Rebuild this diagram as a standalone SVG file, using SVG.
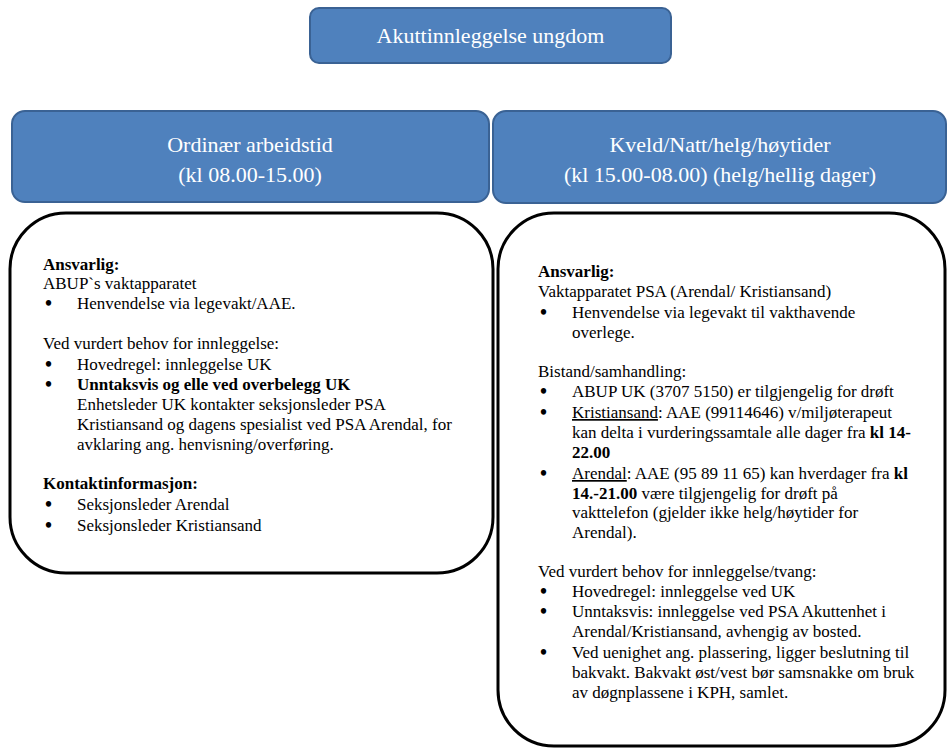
<svg xmlns="http://www.w3.org/2000/svg" width="947" height="749" viewBox="0 0 947 749">
<style>
  .hdr { fill: #4F81BD; stroke: #3A6294; stroke-width: 2; }
  .body { fill: #FFFFFF; stroke: #000000; stroke-width: 3; }
  .ht { font-family: "Liberation Serif", "Times New Roman", serif; font-size: 22px; fill: #FFFFFF; text-anchor: middle; }
  .t { font-family: "Liberation Serif", "Times New Roman", serif; font-size: 17px; fill: #000000; }
  .b { font-weight: bold; }
  .u { text-decoration: underline; }
  .bul { font-family: "Liberation Serif", "Times New Roman", serif; font-size: 20px; font-weight: bold; fill: #000000; }
</style>
<rect width="947" height="749" fill="#FFFFFF"/>

<g id="title">
  <rect class="hdr" x="310" y="8" width="361" height="55" rx="9"/>
  <text class="ht" x="490.5" y="43">Akuttinnleggelse ungdom</text>
</g>

<g id="header-ordinaer">
  <rect class="hdr" x="12" y="111" width="477" height="91" rx="13"/>
  <text class="ht" x="250" y="152">Ordinær arbeidstid</text>
  <text class="ht" x="250" y="182">(kl 08.00-15.00)</text>
</g>

<g id="header-kveld">
  <rect class="hdr" x="493" y="111" width="453" height="92" rx="13"/>
  <text class="ht" x="720" y="152">Kveld/Natt/helg/høytider</text>
  <text class="ht" x="720" y="182">(kl 15.00-08.00) (helg/hellig dager)</text>
</g>

<g id="body-ordinaer">
  <rect class="body" x="10" y="213" width="483" height="360" rx="56"/>
  <text class="t b" x="43" y="270">Ansvarlig:</text>
  <text class="t" x="43" y="289">ABUP`s vaktapparatet</text>
  <text class="bul" x="45" y="310">•</text>
  <text class="t" x="77" y="309">Henvendelse via legevakt/AAE.</text>
  <text class="t" x="43" y="349">Ved vurdert behov for innleggelse:</text>
  <text class="bul" x="45" y="371">•</text>
  <text class="t" x="77" y="370">Hovedregel: innleggelse UK</text>
  <text class="bul" x="45" y="391">•</text>
  <text class="t b" x="77" y="390">Unntaksvis og elle ved overbelegg UK</text>
  <text class="t" x="77" y="410">Enhetsleder UK kontakter seksjonsleder PSA</text>
  <text class="t" x="77" y="430">Kristiansand og dagens spesialist ved PSA Arendal, for</text>
  <text class="t" x="77" y="450">avklaring ang. henvisning/overføring.</text>
  <text class="t b" x="43" y="489">Kontaktinformasjon:</text>
  <text class="bul" x="45" y="511">•</text>
  <text class="t" x="77" y="510">Seksjonsleder Arendal</text>
  <text class="bul" x="45" y="532">•</text>
  <text class="t" x="77" y="531">Seksjonsleder Kristiansand</text>
</g>

<g id="body-kveld">
  <rect class="body" x="498" y="213" width="447" height="533" rx="56"/>
  <text class="t b" x="538" y="277">Ansvarlig:</text>
  <text class="t" x="538" y="297">Vaktapparatet PSA (Arendal/ Kristiansand)</text>
  <text class="bul" x="540" y="319">•</text>
  <text class="t" x="572" y="318">Henvendelse via legevakt til vakthavende</text>
  <text class="t" x="572" y="338">overlege.</text>
  <text class="t" x="538" y="377">Bistand/samhandling:</text>
  <text class="bul" x="540" y="398">•</text>
  <text class="t" x="572" y="397">ABUP UK (3707 5150) er tilgjengelig for drøft</text>
  <text class="bul" x="540" y="419">•</text>
  <text class="t" x="572" y="418"><tspan class="u">Kristiansand</tspan>: AAE (99114646) v/miljøterapeut</text>
  <text class="t" x="572" y="438">kan delta i vurderingssamtale alle dager fra <tspan class="b">kl 14-</tspan></text>
  <text class="t b" x="572" y="458">22.00</text>
  <text class="bul" x="540" y="480">•</text>
  <text class="t" x="572" y="479"><tspan class="u">Arendal</tspan>: AAE (95 89 11 65) kan hverdager fra <tspan class="b">kl</tspan></text>
  <text class="t" x="572" y="499"><tspan class="b">14.-21.00</tspan> være tilgjengelig for drøft på</text>
  <text class="t" x="572" y="518">vakttelefon (gjelder ikke helg/høytider for</text>
  <text class="t" x="572" y="538">Arendal).</text>
  <text class="t" x="538" y="577">Ved vurdert behov for innleggelse/tvang:</text>
  <text class="bul" x="540" y="598">•</text>
  <text class="t" x="572" y="597">Hovedregel: innleggelse ved UK</text>
  <text class="bul" x="540" y="618">•</text>
  <text class="t" x="572" y="617">Unntaksvis: innleggelse ved PSA Akuttenhet i</text>
  <text class="t" x="572" y="637">Arendal/Kristiansand, avhengig av bosted.</text>
  <text class="bul" x="540" y="659">•</text>
  <text class="t" x="572" y="658">Ved uenighet ang. plassering, ligger beslutning til</text>
  <text class="t" x="572" y="678">bakvakt. Bakvakt øst/vest bør samsnakke om bruk</text>
  <text class="t" x="572" y="698">av døgnplassene i KPH, samlet.</text>
</g>

<g id="connectors"></g>
</svg>
